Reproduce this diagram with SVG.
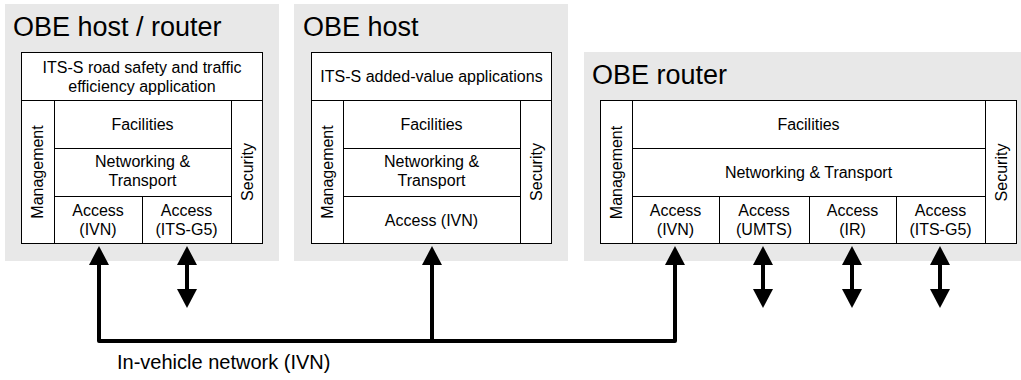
<svg xmlns="http://www.w3.org/2000/svg" width="1021" height="380" viewBox="0 0 1021 380">
<style>
.bg{fill:#e8e8e8;stroke:none}
.cell{fill:#fff;stroke:#000;stroke-width:1}
.ln{stroke:#000;stroke-width:1;fill:none}
text{font-family:"Liberation Sans",Arial,sans-serif;fill:#000}
.t{font-size:27px}
.s{font-size:16px;text-anchor:middle}
.lbl{font-size:20px}
.wire{stroke:#000;stroke-width:4;fill:none;stroke-linejoin:round}
.head{fill:#000}
</style>
<defs>
<path id="up" class="head" d="M0,0 L10,19 L-10,19 Z"/>
<path id="down" class="head" d="M0,0 L10,-19 L-10,-19 Z"/>
</defs>

<g id="node-obe-host-router">
<rect class="bg" x="5" y="4" width="274" height="257"/>
<text class="t" x="13" y="36">OBE host / router</text>
<rect class="cell" x="21.5" y="52.5" width="241" height="191"/>
<path class="ln" d="M21.5,100.5H262.5 M54.5,100.5V243.5 M231.5,100.5V243.5 M54.5,148.5H231.5 M54.5,196.5H231.5 M142.5,196.5V243.5"/>
<text class="s" x="142" y="73">ITS-S road safety and traffic</text>
<text class="s" x="142" y="92">efficiency application</text>
<text class="s" x="142.5" y="129.5">Facilities</text>
<text class="s" x="142.5" y="167">Networking &amp;</text>
<text class="s" x="142.5" y="186">Transport</text>
<text class="s" x="98" y="216">Access</text>
<text class="s" x="98" y="235">(IVN)</text>
<text class="s" x="186.5" y="216">Access</text>
<text class="s" x="186.5" y="235">(ITS-G5)</text>
<text class="s" transform="translate(37.5,172) rotate(-90)" y="5.75">Management</text>
<text class="s" transform="translate(247,172) rotate(-90)" y="5.75">Security</text>
</g>

<g id="node-obe-host">
<rect class="bg" x="294" y="4" width="274" height="257"/>
<text class="t" x="303" y="36">OBE host</text>
<rect class="cell" x="311.5" y="52.5" width="240" height="191"/>
<path class="ln" d="M311.5,100.5H551.5 M343.5,100.5V243.5 M520.5,100.5V243.5 M343.5,148.5H520.5 M343.5,196.5H520.5"/>
<text class="s" x="431.5" y="81.5">ITS-S added-value applications</text>
<text class="s" x="431.5" y="129.5">Facilities</text>
<text class="s" x="431.5" y="167">Networking &amp;</text>
<text class="s" x="431.5" y="186">Transport</text>
<text class="s" x="431.5" y="225.5">Access (IVN)</text>
<text class="s" transform="translate(327,172) rotate(-90)" y="5.75">Management</text>
<text class="s" transform="translate(536,172) rotate(-90)" y="5.75">Security</text>
</g>

<g id="node-obe-router">
<rect class="bg" x="584" y="52" width="437" height="209"/>
<text class="t" x="592" y="84">OBE router</text>
<rect class="cell" x="600.5" y="100.5" width="416" height="143"/>
<path class="ln" d="M632.5,100.5V243.5 M985.5,100.5V243.5 M632.5,148.5H985.5 M632.5,196.5H985.5 M719.5,196.5V243.5 M809.5,196.5V243.5 M896.5,196.5V243.5"/>
<text class="s" x="808.5" y="129.5">Facilities</text>
<text class="s" x="808.5" y="177.5">Networking &amp; Transport</text>
<text class="s" x="675.5" y="216">Access</text>
<text class="s" x="675.5" y="235">(IVN)</text>
<text class="s" x="764" y="216">Access</text>
<text class="s" x="764" y="235">(UMTS)</text>
<text class="s" x="852.5" y="216">Access</text>
<text class="s" x="852.5" y="235">(IR)</text>
<text class="s" x="940.5" y="216">Access</text>
<text class="s" x="940.5" y="235">(ITS-G5)</text>
<text class="s" transform="translate(616,172.5) rotate(-90)" y="5.75">Management</text>
<text class="s" transform="translate(1001,172.5) rotate(-90)" y="5.75">Security</text>
</g>

<g id="connectors">
<path class="wire" d="M99,264 V341 H675 V264 M432,341 V264"/>
<use href="#up" x="99" y="246"/>
<use href="#up" x="432" y="246"/>
<use href="#up" x="675" y="246"/>
<path class="wire" d="M187,264 V290 M763,264 V290 M852,264 V290 M940,264 V290"/>
<use href="#up" x="187" y="246"/>
<use href="#down" x="187" y="308"/>
<use href="#up" x="763" y="246"/>
<use href="#down" x="763" y="308"/>
<use href="#up" x="852" y="246"/>
<use href="#down" x="852" y="308"/>
<use href="#up" x="940" y="246"/>
<use href="#down" x="940" y="308"/>
<text class="lbl" x="117" y="369">In-vehicle network (IVN)</text>
</g>
</svg>
